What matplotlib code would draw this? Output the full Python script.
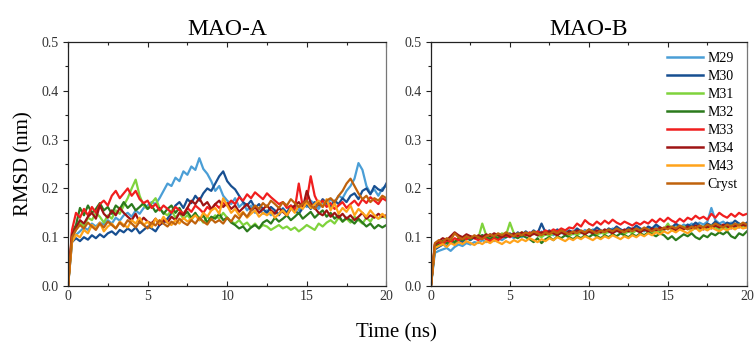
import numpy as np
import matplotlib
matplotlib.use("Agg")
import matplotlib.pyplot as plt

plt.rcParams['font.family'] = ['Liberation Serif', 'DejaVu Serif']

labels = ["M29", "M30", "M31", "M32", "M33", "M34", "M43", "Cryst"]
colors = ["#4a9ed6", "#174f91", "#7fd33c", "#2b7a1c", "#f01e1e", "#9e1414", "#ffa31a", "#c0620c"]
titles = ["MAO-A", "MAO-B"]

# RMSD (nm), sampled every 0.25 ns from 0 to 20 ns
mao_a = {
    "M29": [0.0, 0.095, 0.105, 0.112, 0.120, 0.115, 0.128, 0.122, 0.130, 0.126,
            0.135, 0.128, 0.140, 0.134, 0.145, 0.150, 0.142, 0.155, 0.148, 0.160,
            0.165, 0.172, 0.168, 0.180, 0.195, 0.210, 0.205, 0.222, 0.215, 0.235,
            0.228, 0.245, 0.238, 0.262, 0.240, 0.230, 0.215, 0.195, 0.205, 0.185,
            0.175, 0.168, 0.180, 0.162, 0.170, 0.155, 0.165, 0.150, 0.160, 0.148,
            0.155, 0.145, 0.152, 0.148, 0.160, 0.150, 0.158, 0.165, 0.155, 0.170,
            0.162, 0.175, 0.168, 0.158, 0.172, 0.165, 0.178, 0.170, 0.185, 0.180,
            0.195, 0.205, 0.220, 0.252, 0.238, 0.205, 0.190, 0.198, 0.185, 0.200,
            0.205],
    "M30": [0.0, 0.090, 0.098, 0.092, 0.100, 0.095, 0.104, 0.098, 0.106, 0.100,
            0.108, 0.112, 0.105, 0.115, 0.110, 0.118, 0.112, 0.120, 0.108, 0.115,
            0.122, 0.118, 0.112, 0.125, 0.130, 0.138, 0.150, 0.165, 0.172, 0.160,
            0.178, 0.170, 0.185, 0.175, 0.190, 0.200, 0.195, 0.210, 0.225, 0.235,
            0.215, 0.205, 0.198, 0.185, 0.172, 0.165, 0.175, 0.160, 0.168, 0.158,
            0.150, 0.162, 0.155, 0.145, 0.158, 0.150, 0.165, 0.155, 0.148, 0.160,
            0.168, 0.158, 0.172, 0.165, 0.178, 0.170, 0.162, 0.175, 0.168, 0.180,
            0.172, 0.185, 0.190, 0.178, 0.195, 0.200, 0.188, 0.205, 0.198, 0.195,
            0.210],
    "M31": [0.0, 0.100, 0.115, 0.130, 0.122, 0.140, 0.135, 0.150, 0.142, 0.130,
            0.145, 0.138, 0.155, 0.148, 0.165, 0.180, 0.200, 0.218, 0.185, 0.165,
            0.158, 0.170, 0.180, 0.160, 0.150, 0.145, 0.155, 0.140, 0.150, 0.138,
            0.145, 0.135, 0.148, 0.140, 0.130, 0.142, 0.135, 0.145, 0.138, 0.150,
            0.140, 0.132, 0.128, 0.135, 0.125, 0.130, 0.120, 0.128, 0.118, 0.125,
            0.122, 0.115, 0.120, 0.125, 0.118, 0.122, 0.115, 0.120, 0.112, 0.118,
            0.125, 0.120, 0.115, 0.128, 0.122, 0.130, 0.135, 0.128, 0.140, 0.132,
            0.138, 0.130, 0.142, 0.135, 0.128, 0.140, 0.132, 0.145, 0.138, 0.142,
            0.140],
    "M32": [0.0, 0.110, 0.125, 0.160, 0.145, 0.165, 0.150, 0.158, 0.170, 0.155,
            0.162, 0.148, 0.165, 0.158, 0.172, 0.160, 0.168, 0.155, 0.162, 0.170,
            0.158, 0.165, 0.152, 0.160, 0.148, 0.158, 0.165, 0.150, 0.160, 0.145,
            0.152, 0.140, 0.150, 0.135, 0.145, 0.130, 0.142, 0.138, 0.148, 0.135,
            0.140, 0.130, 0.125, 0.118, 0.122, 0.112, 0.120, 0.125, 0.118, 0.130,
            0.135, 0.128, 0.140, 0.132, 0.138, 0.145, 0.135, 0.142, 0.150, 0.138,
            0.145, 0.152, 0.140, 0.148, 0.155, 0.142, 0.150, 0.138, 0.145, 0.132,
            0.140, 0.135, 0.128, 0.138, 0.130, 0.122, 0.128, 0.118, 0.125, 0.120,
            0.125],
    "M33": [0.0, 0.115, 0.150, 0.140, 0.158, 0.145, 0.162, 0.150, 0.168, 0.175,
            0.165, 0.185, 0.195, 0.180, 0.190, 0.200, 0.185, 0.195, 0.178, 0.170,
            0.175, 0.160, 0.168, 0.155, 0.165, 0.158, 0.150, 0.162, 0.155, 0.148,
            0.160, 0.152, 0.165, 0.158, 0.150, 0.162, 0.155, 0.168, 0.160, 0.170,
            0.165, 0.175, 0.168, 0.182, 0.175, 0.188, 0.180, 0.192, 0.185, 0.178,
            0.190, 0.182, 0.175, 0.168, 0.172, 0.160, 0.165, 0.158, 0.210, 0.162,
            0.175, 0.225, 0.185, 0.168, 0.175, 0.162, 0.170, 0.158, 0.165, 0.172,
            0.160, 0.168, 0.175, 0.165, 0.178, 0.170, 0.182, 0.175, 0.168, 0.180,
            0.175],
    "M34": [0.0, 0.105, 0.120, 0.135, 0.128, 0.142, 0.150, 0.138, 0.165, 0.148,
            0.140, 0.155, 0.145, 0.160, 0.150, 0.142, 0.135, 0.148, 0.130, 0.140,
            0.132, 0.128, 0.138, 0.125, 0.135, 0.130, 0.142, 0.135, 0.150, 0.145,
            0.160, 0.175, 0.168, 0.180, 0.165, 0.172, 0.158, 0.168, 0.175, 0.162,
            0.170, 0.158, 0.165, 0.152, 0.160, 0.168, 0.155, 0.162, 0.150, 0.158,
            0.165, 0.155, 0.148, 0.160, 0.152, 0.145, 0.158, 0.165, 0.172, 0.160,
            0.195, 0.170, 0.160, 0.150, 0.145, 0.155, 0.142, 0.150, 0.140, 0.148,
            0.138, 0.145, 0.135, 0.142, 0.150, 0.138, 0.145, 0.140, 0.148, 0.142,
            0.145],
    "M43": [0.0, 0.090, 0.105, 0.100, 0.115, 0.108, 0.125, 0.118, 0.130, 0.112,
            0.122, 0.128, 0.118, 0.132, 0.125, 0.120, 0.135, 0.128, 0.140, 0.125,
            0.132, 0.120, 0.138, 0.128, 0.142, 0.130, 0.125, 0.135, 0.128, 0.140,
            0.132, 0.138, 0.145, 0.135, 0.150, 0.142, 0.155, 0.160, 0.148, 0.180,
            0.165, 0.150, 0.158, 0.145, 0.152, 0.140, 0.148, 0.155, 0.142, 0.150,
            0.145, 0.152, 0.140, 0.148, 0.155, 0.145, 0.160, 0.150, 0.165, 0.158,
            0.172, 0.160, 0.168, 0.175, 0.162, 0.178, 0.155, 0.170, 0.148, 0.160,
            0.152, 0.165, 0.145, 0.158, 0.150, 0.142, 0.155, 0.145, 0.138, 0.148,
            0.140],
    "Cryst": [0.0, 0.100, 0.115, 0.125, 0.118, 0.130, 0.122, 0.115, 0.128, 0.120,
              0.132, 0.125, 0.118, 0.130, 0.122, 0.135, 0.128, 0.120, 0.132, 0.125,
              0.118, 0.130, 0.124, 0.135, 0.128, 0.122, 0.132, 0.126, 0.138, 0.130,
              0.125, 0.135, 0.128, 0.140, 0.132, 0.126, 0.138, 0.130, 0.135, 0.128,
              0.140, 0.132, 0.145, 0.138, 0.150, 0.142, 0.155, 0.165, 0.158, 0.170,
              0.162, 0.175, 0.168, 0.160, 0.172, 0.165, 0.178, 0.170, 0.162, 0.168,
              0.175, 0.165, 0.158, 0.170, 0.162, 0.175, 0.180, 0.172, 0.185, 0.195,
              0.210, 0.220, 0.205, 0.190, 0.178, 0.185, 0.172, 0.180, 0.175, 0.185,
              0.180],
}

mao_b = {
    "M29": [0.0, 0.068, 0.072, 0.075, 0.078, 0.072, 0.080, 0.085, 0.082, 0.088,
            0.085, 0.090, 0.088, 0.094, 0.090, 0.096, 0.092, 0.098, 0.094, 0.100,
            0.104, 0.098, 0.106, 0.100, 0.108, 0.102, 0.110, 0.104, 0.112, 0.106,
            0.110, 0.104, 0.112, 0.108, 0.114, 0.110, 0.106, 0.112, 0.108, 0.115,
            0.110, 0.116, 0.112, 0.108, 0.115, 0.110, 0.118, 0.112, 0.116, 0.110,
            0.118, 0.114, 0.120, 0.115, 0.112, 0.120, 0.116, 0.122, 0.118, 0.114,
            0.122, 0.118, 0.125, 0.120, 0.126, 0.122, 0.128, 0.124, 0.130, 0.126,
            0.132, 0.160, 0.135, 0.128, 0.132, 0.125, 0.130, 0.122, 0.128, 0.124,
            0.128],
    "M30": [0.0, 0.075, 0.080, 0.085, 0.082, 0.090, 0.086, 0.094, 0.090, 0.098,
            0.094, 0.100, 0.096, 0.104, 0.098, 0.106, 0.100, 0.096, 0.104, 0.100,
            0.108, 0.102, 0.110, 0.104, 0.112, 0.106, 0.114, 0.108, 0.128, 0.110,
            0.114, 0.108, 0.116, 0.110, 0.106, 0.114, 0.110, 0.118, 0.112, 0.108,
            0.116, 0.112, 0.120, 0.114, 0.110, 0.118, 0.114, 0.122, 0.116, 0.112,
            0.120, 0.116, 0.124, 0.118, 0.114, 0.122, 0.118, 0.126, 0.120, 0.116,
            0.124, 0.120, 0.128, 0.122, 0.118, 0.126, 0.122, 0.130, 0.124, 0.120,
            0.128, 0.124, 0.132, 0.126, 0.122, 0.130, 0.126, 0.134, 0.128, 0.124,
            0.130],
    "M31": [0.0, 0.082, 0.088, 0.092, 0.088, 0.095, 0.090, 0.098, 0.094, 0.100,
            0.096, 0.102, 0.098, 0.128, 0.104, 0.100, 0.106, 0.102, 0.108, 0.104,
            0.130, 0.108, 0.104, 0.110, 0.106, 0.102, 0.108, 0.104, 0.100, 0.106,
            0.102, 0.108, 0.104, 0.110, 0.106, 0.102, 0.108, 0.104, 0.110, 0.106,
            0.112, 0.108, 0.104, 0.110, 0.106, 0.112, 0.108, 0.114, 0.110, 0.106,
            0.112, 0.108, 0.114, 0.110, 0.116, 0.112, 0.108, 0.114, 0.110, 0.116,
            0.128, 0.114, 0.120, 0.116, 0.122, 0.118, 0.114, 0.120, 0.116, 0.122,
            0.118, 0.124, 0.120, 0.116, 0.122, 0.118, 0.124, 0.120, 0.126, 0.122,
            0.125],
    "M32": [0.0, 0.080, 0.086, 0.092, 0.088, 0.095, 0.090, 0.098, 0.094, 0.100,
            0.096, 0.102, 0.098, 0.104, 0.100, 0.096, 0.102, 0.098, 0.104, 0.100,
            0.106, 0.102, 0.098, 0.104, 0.100, 0.096, 0.090, 0.098, 0.088, 0.096,
            0.100, 0.094, 0.102, 0.098, 0.104, 0.100, 0.096, 0.102, 0.098, 0.104,
            0.100, 0.106, 0.102, 0.098, 0.104, 0.100, 0.106, 0.102, 0.108, 0.104,
            0.100, 0.106, 0.102, 0.108, 0.104, 0.110, 0.106, 0.102, 0.108, 0.104,
            0.096, 0.102, 0.094, 0.100, 0.106, 0.102, 0.108, 0.100, 0.096, 0.104,
            0.100, 0.108, 0.104, 0.110, 0.106, 0.112, 0.102, 0.098, 0.108, 0.104,
            0.112],
    "M33": [0.0, 0.085, 0.090, 0.086, 0.094, 0.090, 0.098, 0.094, 0.100, 0.096,
            0.102, 0.098, 0.094, 0.100, 0.096, 0.092, 0.098, 0.094, 0.100, 0.104,
            0.100, 0.106, 0.102, 0.108, 0.104, 0.110, 0.106, 0.112, 0.108, 0.114,
            0.110, 0.116, 0.112, 0.118, 0.114, 0.120, 0.118, 0.128, 0.122, 0.135,
            0.128, 0.124, 0.132, 0.126, 0.134, 0.128, 0.136, 0.130, 0.126, 0.132,
            0.128, 0.124, 0.130, 0.126, 0.132, 0.128, 0.136, 0.130, 0.138, 0.132,
            0.140, 0.134, 0.130, 0.138, 0.132, 0.140, 0.136, 0.144, 0.138, 0.142,
            0.136, 0.148, 0.140, 0.150, 0.144, 0.140, 0.148, 0.142, 0.150, 0.145,
            0.148],
    "M34": [0.0, 0.085, 0.092, 0.098, 0.094, 0.102, 0.110, 0.104, 0.100, 0.106,
            0.102, 0.098, 0.104, 0.100, 0.106, 0.102, 0.108, 0.104, 0.100, 0.106,
            0.102, 0.108, 0.104, 0.110, 0.106, 0.102, 0.108, 0.104, 0.110, 0.106,
            0.112, 0.108, 0.104, 0.110, 0.106, 0.112, 0.108, 0.114, 0.110, 0.106,
            0.112, 0.108, 0.114, 0.110, 0.116, 0.112, 0.108, 0.114, 0.110, 0.116,
            0.112, 0.118, 0.114, 0.110, 0.116, 0.112, 0.118, 0.114, 0.120, 0.116,
            0.122, 0.118, 0.114, 0.120, 0.116, 0.122, 0.118, 0.124, 0.120, 0.116,
            0.122, 0.118, 0.124, 0.120, 0.126, 0.122, 0.118, 0.124, 0.120, 0.126,
            0.122],
    "M43": [0.0, 0.078, 0.082, 0.086, 0.080, 0.088, 0.084, 0.090, 0.086, 0.092,
            0.088, 0.084, 0.090, 0.086, 0.092, 0.088, 0.094, 0.090, 0.086, 0.092,
            0.088, 0.094, 0.090, 0.096, 0.092, 0.098, 0.094, 0.090, 0.096, 0.092,
            0.098, 0.094, 0.100, 0.096, 0.092, 0.098, 0.094, 0.100, 0.096, 0.102,
            0.098, 0.094, 0.100, 0.096, 0.102, 0.098, 0.104, 0.100, 0.096, 0.102,
            0.098, 0.104, 0.100, 0.106, 0.102, 0.108, 0.104, 0.110, 0.106, 0.112,
            0.108, 0.114, 0.110, 0.116, 0.112, 0.108, 0.114, 0.120, 0.112, 0.118,
            0.114, 0.120, 0.116, 0.112, 0.118, 0.114, 0.120, 0.116, 0.122, 0.118,
            0.120],
    "Cryst": [0.0, 0.088, 0.094, 0.090, 0.098, 0.094, 0.108, 0.100, 0.096, 0.102,
              0.098, 0.104, 0.100, 0.096, 0.102, 0.106, 0.102, 0.108, 0.104, 0.110,
              0.106, 0.102, 0.108, 0.104, 0.110, 0.106, 0.112, 0.108, 0.104, 0.110,
              0.106, 0.112, 0.108, 0.114, 0.110, 0.106, 0.112, 0.108, 0.114, 0.110,
              0.116, 0.112, 0.108, 0.114, 0.110, 0.116, 0.112, 0.118, 0.114, 0.110,
              0.116, 0.112, 0.118, 0.114, 0.120, 0.116, 0.112, 0.118, 0.114, 0.120,
              0.116, 0.122, 0.118, 0.124, 0.120, 0.116, 0.122, 0.118, 0.124, 0.120,
              0.126, 0.122, 0.128, 0.124, 0.120, 0.126, 0.122, 0.128, 0.124, 0.130,
              0.126],
}

xticks = [0, 5, 10, 15, 20]
yticks = [0.0, 0.1, 0.2, 0.3, 0.4, 0.5]


def style_axis(ax, title):
    ax.set_xlim(0, 20)
    ax.set_ylim(0, 0.5)
    ax.set_xticks(xticks)
    ax.set_xticks(np.arange(0, 20.1, 2.5), minor=True)
    ax.set_yticks(yticks)
    ax.set_yticks(np.arange(0, 0.501, 0.05), minor=True)
    ax.set_yticklabels(["%.1f" % v for v in yticks])
    ax.tick_params(which="both", top=True, right=False, labelsize=10,
                   width=0.8, colors="#222222", labelcolor="#333333", pad=3)
    ax.tick_params(axis="y", which="both", direction="out")
    ax.tick_params(axis="x", which="both", direction="in")
    ax.tick_params(which="major", length=3.5)
    ax.tick_params(which="minor", length=2)
    for s in ax.spines.values():
        s.set_linewidth(0.9)
        s.set_color("#222222")
    ax.spines["right"].set_color("#777777")
    ax.set_title(title, fontsize=17, pad=5)


fig = plt.figure(figsize=(7.56, 3.45), dpi=100)
ax1 = fig.add_axes([0.090, 0.171, 0.421, 0.707])
ax2 = fig.add_axes([0.570, 0.171, 0.418, 0.707])

for ax, data, title in [(ax1, mao_a, titles[0]), (ax2, mao_b, titles[1])]:
    for lab, col in zip(labels, colors):
        vals = data[lab]
        t = np.linspace(0, 20, len(vals))
        ax.plot(t, vals, color=col, lw=1.6, label=lab)
    style_axis(ax, title)

ax1.set_ylabel("RMSD (nm)", fontsize=15, labelpad=6)
fig.text(0.525, 0.008, "Time (ns)", fontsize=15, ha="center", va="bottom")

leg = ax2.legend(loc="upper right", frameon=False, fontsize=10, handlelength=2.6,
                 handletextpad=0.3, labelspacing=0.36, borderaxespad=0.3)
for line in leg.get_lines():
    line.set_linewidth(1.8)

fig.savefig("out.png", dpi=100)
